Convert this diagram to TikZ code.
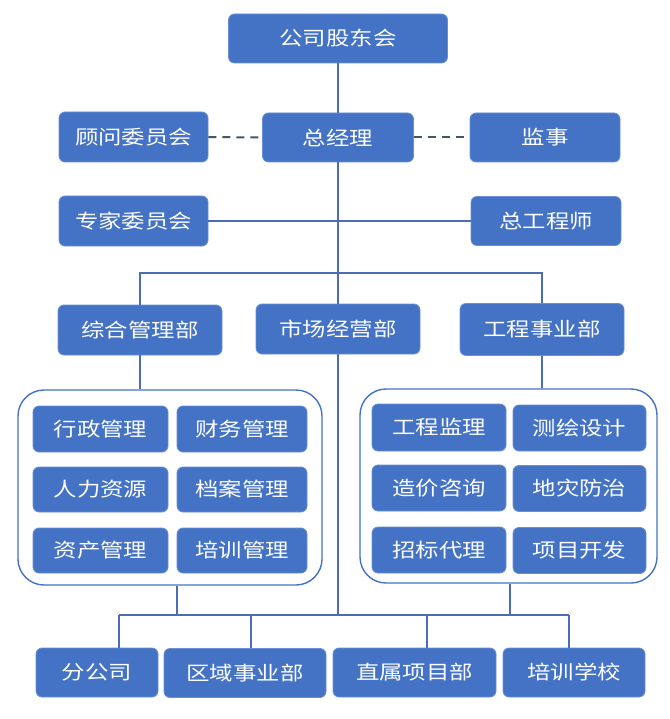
\documentclass[tikz,border=0pt]{standalone}
\usepackage{fontspec}
\newfontfamily\cjk[FakeStretch=1.2]{Noto Sans CJK SC}
\definecolor{boxblue}{HTML}{4472C4}
\definecolor{boxedge}{HTML}{6A8FD6}
\definecolor{linkblue}{HTML}{4A6DB3}
\definecolor{dashgray}{HTML}{44546A}
\begin{document}
\begin{tikzpicture}[x=1pt,y=1pt,
  box/.style={draw=boxedge, line width=0.8pt, fill=boxblue, rounded corners=6pt,
    text=white, font=\cjk\fontsize{19.5}{19.5}\selectfont, inner sep=0pt, align=center},
  group/.style={draw=boxblue, line width=1.4pt, fill=white, rounded corners=26pt, inner sep=0pt},
  link/.style={draw=linkblue, line width=1.5pt},
  dlink/.style={draw=dashgray, line width=2pt, dash pattern=on 8pt off 6pt}]
\useasboundingbox (0,0) rectangle (669,-719);
\fill[white] (0,0) rectangle (669,-719);

% top levels
\node[box, minimum width=219, minimum height=49] (gd)  at (338,-38.5) {公司股东会};
\node[box, minimum width=149, minimum height=50] (gw)  at (133.5,-137) {顾问委员会};
\node[box, minimum width=151, minimum height=49] (zjl) at (338,-137.5) {总经理};
\node[box, minimum width=150, minimum height=49] (js)  at (545,-137.5) {监事};
\node[box, minimum width=149, minimum height=50] (zj)  at (133.5,-221) {专家委员会};
\node[box, minimum width=150, minimum height=49] (zgc) at (546,-221) {总工程师};

% departments
\node[box, minimum width=164, minimum height=50] (zh) at (140,-330) {综合管理部};
\node[box, minimum width=164, minimum height=50] (sc) at (338,-329) {市场经营部};
\node[box, minimum width=164, minimum height=52] (gc) at (542,-329.5) {工程事业部};

% groups
\node[group, minimum width=304, minimum height=195] (L) at (170,-487.5) {};
\node[group, minimum width=297, minimum height=194] (R) at (508.5,-486) {};

% left inner
\node[box, minimum width=135, minimum height=46] (xz) at (100.5,-429) {行政管理};
\node[box, minimum width=130, minimum height=46] (cw) at (242,-429) {财务管理};
\node[box, minimum width=135, minimum height=45] (rl) at (100.5,-489.5) {人力资源};
\node[box, minimum width=130, minimum height=45] (da) at (242,-489.5) {档案管理};
\node[box, minimum width=135, minimum height=45] (zc) at (100.5,-550.5) {资产管理};
\node[box, minimum width=130, minimum height=45] (px) at (242,-550.5) {培训管理};

% right inner
\node[box, minimum width=134, minimum height=47] (jl) at (439,-427.5) {工程监理};
\node[box, minimum width=133, minimum height=46] (ch) at (579.5,-428) {测绘设计};
\node[box, minimum width=134, minimum height=46] (zx) at (439,-488) {造价咨询};
\node[box, minimum width=133, minimum height=46] (dz) at (579.5,-488.5) {地灾防治};
\node[box, minimum width=134, minimum height=46] (zb) at (439,-550) {招标代理};
\node[box, minimum width=133, minimum height=46] (xm) at (579.5,-550.5) {项目开发};

% bottom row
\node[box, minimum width=122, minimum height=49] (fgs) at (97,-672.5) {分公司};
\node[box, minimum width=162, minimum height=49] (qy)  at (245,-673) {区域事业部};
\node[box, minimum width=163, minimum height=49] (zs)  at (414.5,-672.5) {直属项目部};
\node[box, minimum width=142, minimum height=49] (pxx) at (574,-672.5) {培训学校};

% helper coordinates
\coordinate (br) at (338,-273);
\coordinate (bus) at (340,-615);
\coordinate (bL) at (177,-615);
\coordinate (bR) at (510,-615);
\coordinate (b1) at (119,-615);
\coordinate (b2) at (251,-615);
\coordinate (b3) at (427,-615);
\coordinate (b4) at (569,-615);

% connectors
\path[link] (gd.south) -- (zjl.north);
\path[link] (zjl.south) -- (sc.north);
\path[link] (zh.north) -- (zh.north |- br) -- (gc.north |- br) -- (gc.north);
\path[link] (zj.east) -- (zgc.west);
\path[dlink] (gw.east) -- (zjl.west);
\path[dlink] (zjl.east) -- (js.west);
\path[link] (zh.south) -- (zh.south |- L.north);
\path[link] (gc.south) -- (gc.south |- R.north);
\path[link] (sc.south) -- (sc.south |- bus);
\path[link] (bL |- L.south) -- (bL);
\path[link] (bR |- R.south) -- (bR);
\path[link] (b1) -- (b4);
\path[link] (b1) -- (b1 |- fgs.north);
\path[link] (b2) -- (b2 |- qy.north);
\path[link] (b3) -- (b3 |- zs.north);
\path[link] (b4) -- (b4 |- pxx.north);
\end{tikzpicture}
\end{document}
